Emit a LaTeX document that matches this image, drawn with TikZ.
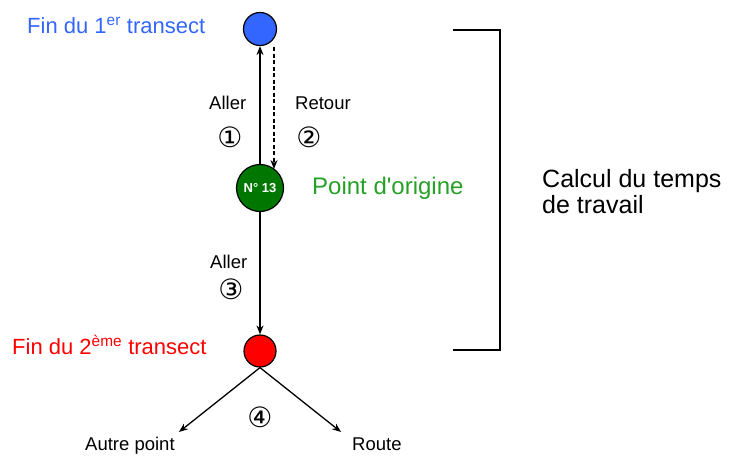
\documentclass[tikz,border=0pt]{standalone}
\usepackage{fontspec}
\setmainfont{Liberation Sans}
\newfontfamily\djv{DejaVu Sans}
\usetikzlibrary{arrows.meta}
\definecolor{myblue}{HTML}{3366FF}
\definecolor{mygreen}{HTML}{007700}
\definecolor{mygreentext}{HTML}{26A026}
\definecolor{myred}{HTML}{FF0000}
\tikzset{
  pt/.style={circle,draw=black,line width=1.2pt,inner sep=0pt},
  lbl/.style={font=\fontsize{18.5}{20}\selectfont,inner sep=0pt,anchor=base west},
  fin/.style={font=\fontsize{22}{24}\selectfont,inner sep=0pt,anchor=base west},
  big/.style={font=\fontsize{24}{26}\selectfont,inner sep=0pt,anchor=base west},
  num/.style={font=\djv\fontsize{28}{28}\selectfont,inner sep=0pt},
  arr/.style={-{Stealth[length=9pt,width=7pt]},line width=1.3pt},
}
\begin{document}
\begin{tikzpicture}[x=1pt,y=-1pt]
\useasboundingbox (0,0) rectangle (729,456);
\node[pt,fill=myblue,minimum size=33pt] (b) at (260,29) {};
\node[pt,fill=mygreen,minimum size=47pt,text=white,font=\bfseries\fontsize{13}{13}\selectfont] (g) at (260,188) {N° 13};
\node[pt,fill=myred,minimum size=32pt] (r) at (260,351) {};
\coordinate (ap) at (179,432);
\coordinate (ro) at (341,432);
\coordinate (dtop) at (274,47);
\coordinate (dbot) at (274,169);
\node[fin,text=myblue] (t1) at (27,33) {Fin du 1\textsuperscript{er} transect};
\node[fin,text=myred] (t2) at (12,354) {Fin du 2\textsuperscript{ème} transect};
\node[big,text=mygreentext] (po) at (312,194) {Point d\textquotesingle origine};
\draw[arr] (g) -- (b);
\draw[arr,line width=1.7pt,dash pattern=on 4pt off 2.5pt] (dtop) -- (dbot);
\draw[arr] (g) -- (r);
\draw[arr] (r.south) -- (ap);
\draw[arr] (r.south) -- (ro);
\node[lbl] (a1) at (209,109) {Aller};
\node[num] (n1) at (230,137) {①};
\node[lbl] (re) at (295,109) {Retour};
\node[num] (n2) at (309,137) {②};
\node[lbl] (a3) at (210,268) {Aller};
\node[num] (n3) at (231,289) {③};
\node[num] (n4) at (260,417) {④};
\node[lbl] (apt) at (85,450) {Autre point};
\node[lbl] (rot) at (352,450) {Route};
\coordinate (bt) at (453,30);
\coordinate (btr) at (500,30);
\coordinate (bbr) at (500,350);
\coordinate (bb) at (453,350);
\draw[line width=1.2pt] (bt) -- (btr) -- (bbr) -- (bb);
\node[big,font=\fontsize{25}{26}\selectfont] (cal) at (542,187) {Calcul du temps};
\node[big,font=\fontsize{25}{26}\selectfont] (cal2) at (542,213) {de travail};
\end{tikzpicture}
\end{document}
